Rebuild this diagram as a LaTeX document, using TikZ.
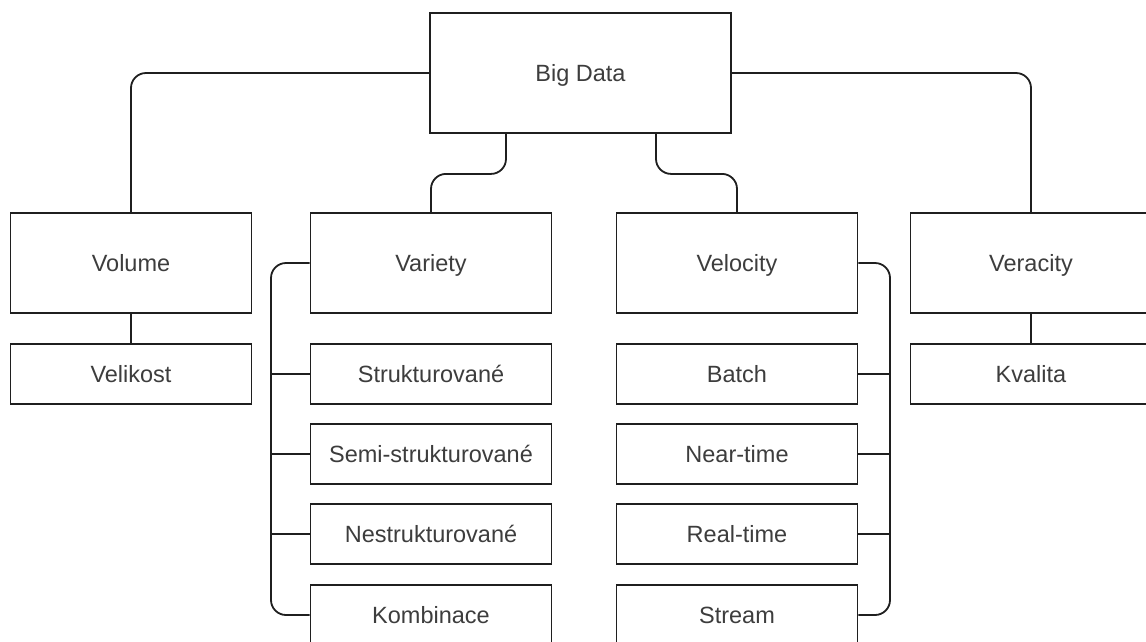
\documentclass[tikz,border=0pt]{standalone}
\usepackage{fontspec}
\setmainfont{Liberation Sans}
\begin{document}
\begin{tikzpicture}[x=1pt,y=-1pt,
  box/.style={draw=black!88, line width=1.8pt, fill=white, inner sep=0pt,
    text=black!76, font=\fontsize{23.5}{27}\selectfont,
    text height=16.8pt, text depth=0pt},
  bigbox/.style={box, minimum width=301pt, minimum height=120pt},
  mainbox/.style={box, minimum width=241pt, minimum height=100pt},
  subbox/.style={box, minimum width=241pt, minimum height=60pt},
  conn/.style={draw=black!88, line width=1.8pt, rounded corners=15pt}]
\useasboundingbox (0,0) rectangle (1146,641);
\clip (0,0) rectangle (1146,641);
\fill[white] (0,0) rectangle (1146,641);
% top
\node[bigbox] (bd) at (580.5,73) {Big Data};
% main level
\node[mainbox] (vol) at (131,263) {Volume};
\node[mainbox] (var) at (431,263) {Variety};
\node[mainbox] (velo) at (737,263) {Velocity};
\node[mainbox] (ver) at (1031,263) {Veracity};
% sub level
\node[subbox] (vel) at (131,374) {Velikost};
\node[subbox] (kva) at (1031,374) {Kvalita};
\node[subbox] (str) at (431,374) {Strukturované};
\node[subbox] (semi) at (431,454) {Semi-strukturované};
\node[subbox] (nes) at (431,534) {Nestrukturované};
\node[subbox] (kom) at (431,615) {Kombinace};
\node[subbox] (bat) at (737,374) {Batch};
\node[subbox] (near) at (737,454) {Near-time};
\node[subbox] (real) at (737,534) {Real-time};
\node[subbox] (stre) at (737,615) {Stream};
% bus coordinates
\coordinate (bl) at (271,0);
\coordinate (br) at (890,0);
% connectors from Big Data
\draw[conn] (bd.west) -| (vol.north);
\draw[conn] (bd.east) -| (ver.north);
\draw[conn] ([xshift=-74.5pt]bd.south) -- ++(0,40) -| (var.north);
\draw[conn] ([xshift=75.5pt]bd.south) -- ++(0,40) -| (velo.north);
% vertical single
\draw[conn] (vol.south) -- (vel.north);
\draw[conn] (ver.south) -- (kva.north);
% left bus
\draw[conn] (var.west) -| (bl |- kom.west) -- (kom.west);
\draw[conn] (bl |- str.west) -- (str.west);
\draw[conn] (bl |- semi.west) -- (semi.west);
\draw[conn] (bl |- nes.west) -- (nes.west);
% right bus
\draw[conn] (velo.east) -| (br |- stre.east) -- (stre.east);
\draw[conn] (br |- bat.east) -- (bat.east);
\draw[conn] (br |- near.east) -- (near.east);
\draw[conn] (br |- real.east) -- (real.east);
\end{tikzpicture}
\end{document}
